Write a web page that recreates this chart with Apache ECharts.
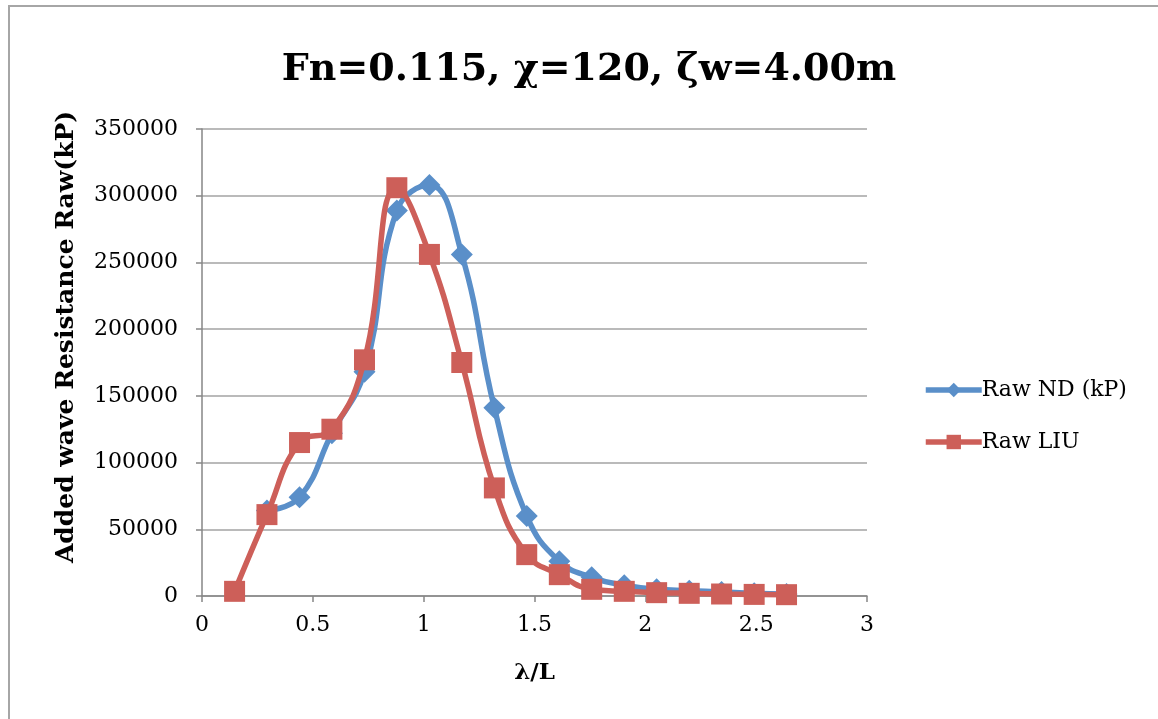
<!DOCTYPE html>
<html>
<head>
<meta charset="utf-8">
<title>Fn=0.115, χ=120, ζw=4.00m</title>
<script src="https://cdn.jsdelivr.net/npm/echarts@6/dist/echarts.min.js"></script>
<style>
  html, body { margin: 0; padding: 0; background: #ffffff; }
  #chart { width: 1158px; height: 719px; }
</style>
</head>
<body>
<div id="chart"></div>
<script>
// Wavelength ratio λ/L for each computed case
const lambdaL = [0.147, 0.293, 0.440, 0.586, 0.733, 0.879, 1.026, 1.172, 1.319,
                 1.465, 1.612, 1.758, 1.905, 2.051, 2.198, 2.344, 2.491, 2.637];

// Added wave resistance, ND method (first case not computed)
const rawND = [null, 64000, 74000, 122000, 168000, 289000, 308000, 256000, 141000,
               60000, 26000, 14000, 8000, 5000, 4000, 3000, 2000, 1500];

// Added wave resistance, LIU method
const rawLIU = [3500, 61000, 115000, 125000, 177000, 306000, 256000, 175000, 81000,
                31000, 16000, 5000, 3500, 2500, 2000, 1500, 1200, 1000];

const seriesNames = ['Raw ND (kP)', 'Raw LIU'];
const yTicks = { min: 0, max: 350000, interval: 50000 };
const xTicks = { min: 0, max: 3, interval: 0.5 };

const pairs = (xs, ys) => xs.map((x, i) => [x, ys[i]]).filter(p => p[1] !== null);

const serif = '"DejaVu Serif", "Liberation Serif", serif';
const axisGray = '#868686';

const chart = echarts.init(document.getElementById('chart'), null, { renderer: 'canvas' });
chart.setOption({
  animation: false,
  backgroundColor: '#ffffff',
  title: {
    text: 'Fn=0.115, χ=120, ζw=4.00m',
    left: 584,
    top: 46,
    textAlign: 'center',
    textStyle: { fontFamily: serif, fontWeight: 'bold', fontSize: 38, color: '#000' }
  },
  graphic: [
    {
      type: 'rect',
      shape: { x: 9, y: 6, width: 1300, height: 900 },
      style: { fill: 'none', stroke: '#a6a6a6', lineWidth: 2 },
      silent: true
    },
    {
      type: 'text',
      x: 66, y: 337,
      rotation: Math.PI / 2,
      style: {
        text: 'Added wave Resistance Raw(kP)',
        font: 'bold 25px ' + serif,
        fill: '#000',
        align: 'center',
        verticalAlign: 'middle'
      }
    }
  ],
  legend: {
    orient: 'vertical',
    left: 918,
    top: 374,
    itemWidth: 56,
    itemHeight: 18,
    itemGap: 30,
    lineStyle: { width: 5.5 },
    textStyle: { fontFamily: serif, fontSize: 22, color: '#000', padding: [0, 0, 0, -5] },
    data: seriesNames
  },
  grid: { left: 202, right: 291, top: 129, bottom: 123, containLabel: false },
  xAxis: {
    type: 'value',
    min: xTicks.min, max: xTicks.max, interval: xTicks.interval,
    name: 'λ/L',
    nameLocation: 'middle',
    nameGap: 66,
    nameTextStyle: { fontFamily: serif, fontWeight: 'bold', fontSize: 23, color: '#000' },
    axisLine: { show: true, lineStyle: { color: axisGray, width: 1.5 } },
    axisTick: { show: true, inside: false, length: 6, lineStyle: { color: axisGray, width: 1.5 } },
    axisLabel: { margin: 18, fontFamily: serif, fontSize: 22, color: '#000',
                 formatter: v => String(v) },
    splitLine: { show: false }
  },
  yAxis: {
    type: 'value',
    min: yTicks.min, max: yTicks.max, interval: yTicks.interval,
    axisLine: { show: true, lineStyle: { color: axisGray, width: 1.5 } },
    axisTick: { show: true, inside: false, length: 6, lineStyle: { color: axisGray, width: 1.5 } },
    axisLabel: { margin: 24, fontFamily: serif, fontSize: 22, color: '#000',
                 formatter: v => String(v) },
    splitLine: { show: true, lineStyle: { color: '#a3a3a3', width: 1.5 } }
  },
  series: [
    {
      name: seriesNames[0],
      type: 'line',
      smooth: 0.45,
      data: pairs(lambdaL, rawND),
      symbol: 'diamond',
      symbolSize: 22,
      showAllSymbol: true,
      lineStyle: { color: '#5a8fc9', width: 5.5 },
      itemStyle: { color: '#5a8fc9' },
      z: 2
    },
    {
      name: seriesNames[1],
      type: 'line',
      smooth: 0.45,
      data: pairs(lambdaL, rawLIU),
      symbol: 'rect',
      symbolSize: 21,
      showAllSymbol: true,
      lineStyle: { color: '#cd5f59', width: 5.5 },
      itemStyle: { color: '#cd5f59' },
      z: 3
    }
  ]
});
</script>
</body>
</html>
